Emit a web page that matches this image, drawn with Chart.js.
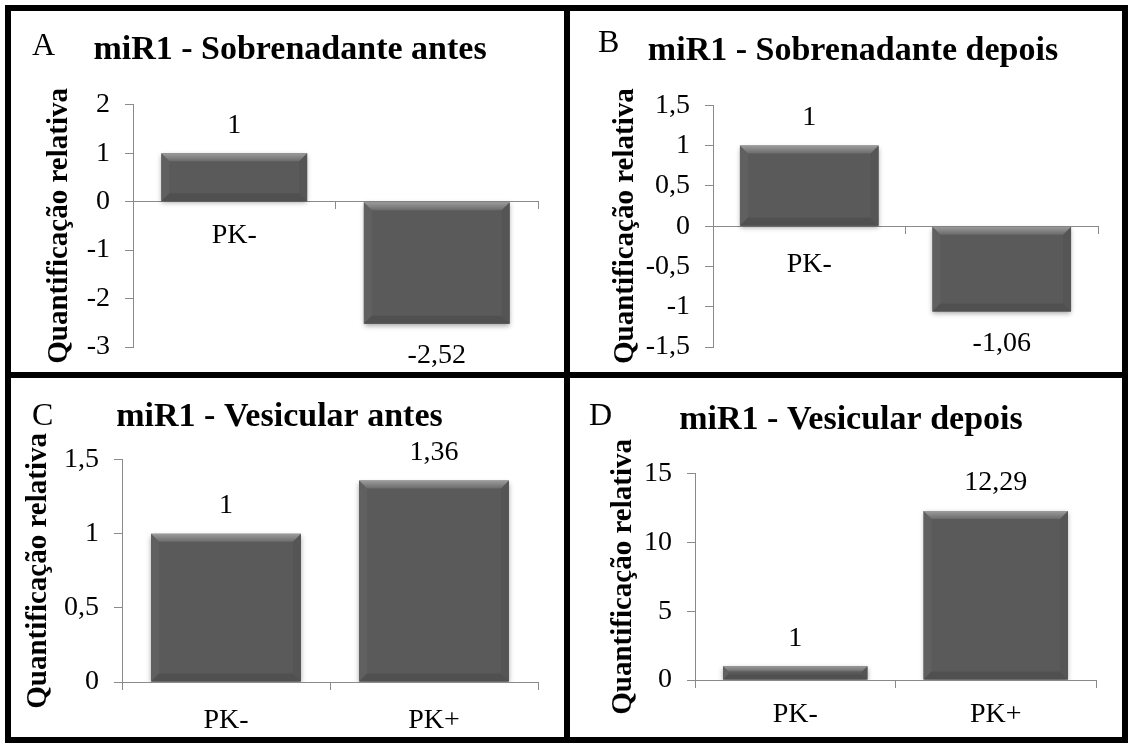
<!DOCTYPE html>
<html lang="pt">
<head>
<meta charset="UTF-8">
<title>miR1 - Quantificação relativa</title>
<script src="https://cdn.jsdelivr.net/npm/chart.js"></script>
<style>
    body { margin: 0; background: #fff; }
    #sheet { position: relative; width: 1131px; height: 743px; overflow: hidden; }
    .panel { position: absolute; box-sizing: border-box; border: 6px solid #000; background: #fff; }
    .panel canvas { position: absolute; left: 0; top: 0; }
    .letter { position: absolute; font-family: "Liberation Serif", serif; font-size: 32px; line-height: 32px; color: #000; z-index: 2; }
</style>
</head>
<body>

<div id="sheet">
    <div class="panel" style="left:5px;top:5px;width:565px;height:373px">
        <span class="letter" style="left:21px;top:17px">A</span><canvas id="chartA" width="553" height="361"></canvas>
    </div>
    <div class="panel" style="left:564px;top:5px;width:564px;height:373px">
        <span class="letter" style="left:28px;top:14px">B</span><canvas id="chartB" width="552" height="361"></canvas>
    </div>
    <div class="panel" style="left:5px;top:372px;width:565px;height:371px">
        <span class="letter" style="left:21px;top:20px">C</span><canvas id="chartC" width="553" height="359"></canvas>
    </div>
    <div class="panel" style="left:564px;top:372px;width:564px;height:371px">
        <span class="letter" style="left:19px;top:20px">D</span><canvas id="chartD" width="552" height="359"></canvas>
    </div>
</div>

<script>
    // data
    const categories = ['PK-', 'PK+'];
    const titles = ['miR1 - Sobrenadante antes', 'miR1 - Sobrenadante depois', 'miR1 - Vesicular antes', 'miR1 - Vesicular depois'];
    const valuesA = [1, -2.52];
    const valuesB = [1, -1.06];
    const valuesC = [1, 1.36];
    const valuesD = [1, 12.29];
    const yMin = [-3, -1.5, 0, 0];
    const yMax = [2, 1.5, 1.5, 15];
    const yStep = [1, 0.5, 0.5, 5];
    const yTitle = 'Quantificação relativa';

    const serif = '"Liberation Serif", "Times New Roman", serif';
    const axisGray = '#8a8a8a';
    const labelSize = 28;

    // per panel spacing, tuned by eye against the picture
    const layouts = [
        { padLeft: 31, yWidth: 91, padRight: 26, padBottom: 25, titleTop: 19, titleBottom: 34, catPad: 10.5 },
        { padLeft: 38, yWidth: 105, padRight: 24, padBottom: 25, titleTop: 20, titleBottom: 33.5, catPad: 14.5 },
        { padLeft: 10, yWidth: 101, padRight: 26, padBottom: 55, titleTop: 19, titleBottom: 22, catPad: 14.5 },
        { padLeft: 36, yWidth: 89, padRight: 26, padBottom: 57, titleTop: 22, titleBottom: 33, catPad: 10.5 }
    ];

    function fmt(v) {
        return String(v).replace('.', ',');
    }

    function facet(ctx, pts, fill) {
        ctx.beginPath();
        ctx.moveTo(pts[0][0], pts[0][1]);
        for (let i = 1; i < pts.length; i++) ctx.lineTo(pts[i][0], pts[i][1]);
        ctx.closePath();
        ctx.fillStyle = fill;
        ctx.fill();
    }

    // soft shadow + bevelled edges like the office chart style
    const barBevel = {
        id: 'barBevel',
        beforeDatasetsDraw(chart) {
            const ctx = chart.ctx;
            ctx.save();
            ctx.shadowColor = 'rgba(0,0,0,0.35)';
            ctx.shadowBlur = 5;
            ctx.shadowOffsetY = 2;
        },
        afterDatasetsDraw(chart) {
            const ctx = chart.ctx;
            ctx.restore();
            chart.getDatasetMeta(0).data.forEach(bar => {
                const p = bar.getProps(['x', 'y', 'base', 'width'], true);
                const l = p.x - p.width / 2, r = p.x + p.width / 2;
                const t = Math.min(p.y, p.base), b = Math.max(p.y, p.base);
                const e = Math.min(8, (b - t) / 2.5);
                const g = ctx.createLinearGradient(0, t, 0, t + e);
                g.addColorStop(0, '#9c9c9c');
                g.addColorStop(1, '#6b6b6b');
                facet(ctx, [[l, t], [l + e, t + e], [l + e, b - e], [l, b]], '#606060');
                facet(ctx, [[r, t], [r, b], [r - e, b - e], [r - e, t + e]], '#555555');
                facet(ctx, [[l, b], [l + e, b - e], [r - e, b - e], [r, b]], '#505050');
                facet(ctx, [[l, t], [r, t], [r - e, t + e], [l + e, t + e]], g);
            });
        }
    };

    const valueLabels = {
        id: 'valueLabels',
        afterDatasetsDraw(chart) {
            const ctx = chart.ctx;
            const vals = chart.data.datasets[0].data;
            ctx.save();
            ctx.font = labelSize + 'px ' + serif;
            ctx.fillStyle = '#000';
            ctx.textAlign = 'center';
            ctx.textBaseline = 'middle';
            chart.getDatasetMeta(0).data.forEach((bar, i) => {
                const v = vals[i];
                ctx.fillText(fmt(v), bar.x, v >= 0 ? bar.y - 28 : bar.y + 32);
            });
            ctx.restore();
        }
    };

    function makeChart(id, n, values) {
        const L = layouts[n];
        return new Chart(document.getElementById(id), {
            type: 'bar',
            data: {
                labels: categories,
                datasets: [{
                    data: values,
                    backgroundColor: '#5a5a5a',
                    borderWidth: 0,
                    barPercentage: 0.72,
                    categoryPercentage: 1
                }]
            },
            options: {
                responsive: false,
                animation: false,
                layout: { padding: { left: L.padLeft, right: L.padRight, top: 0, bottom: L.padBottom } },
                plugins: {
                    legend: { display: false },
                    tooltip: { enabled: false },
                    title: {
                        display: true,
                        text: titles[n],
                        color: '#000',
                        font: { family: serif, size: 34, weight: 'bold' },
                        padding: { top: L.titleTop, bottom: L.titleBottom }
                    }
                },
                scales: {
                    x: {
                        position: { y: 0 },
                        z: 1,
                        grid: { offset: true, drawOnChartArea: false, drawTicks: true, tickLength: 7, color: axisGray },
                        border: { color: axisGray },
                        ticks: { color: '#000', font: { family: serif, size: labelSize }, padding: L.catPad, maxRotation: 0 }
                    },
                    y: {
                        min: yMin[n],
                        max: yMax[n],
                        ticks: { stepSize: yStep[n], callback: v => fmt(v), color: '#000', font: { family: serif, size: labelSize }, padding: 15 },
                        grid: { drawOnChartArea: false, tickLength: 8, color: axisGray },
                        border: { color: axisGray },
                        title: { display: true, text: yTitle, color: '#000', font: { family: serif, size: 29, weight: 'bold' }, padding: 0 },
                        afterFit(scale) {
                            scale.width = L.yWidth;
                            // keep the plot height set by the layout padding only
                            scale.paddingTop = 0;
                            scale.paddingBottom = 0;
                        }
                    }
                }
            },
            plugins: [barBevel, valueLabels]
        });
    }

    makeChart('chartA', 0, valuesA);
    makeChart('chartB', 1, valuesB);
    makeChart('chartC', 2, valuesC);
    makeChart('chartD', 3, valuesD);
</script>

</body>
</html>
